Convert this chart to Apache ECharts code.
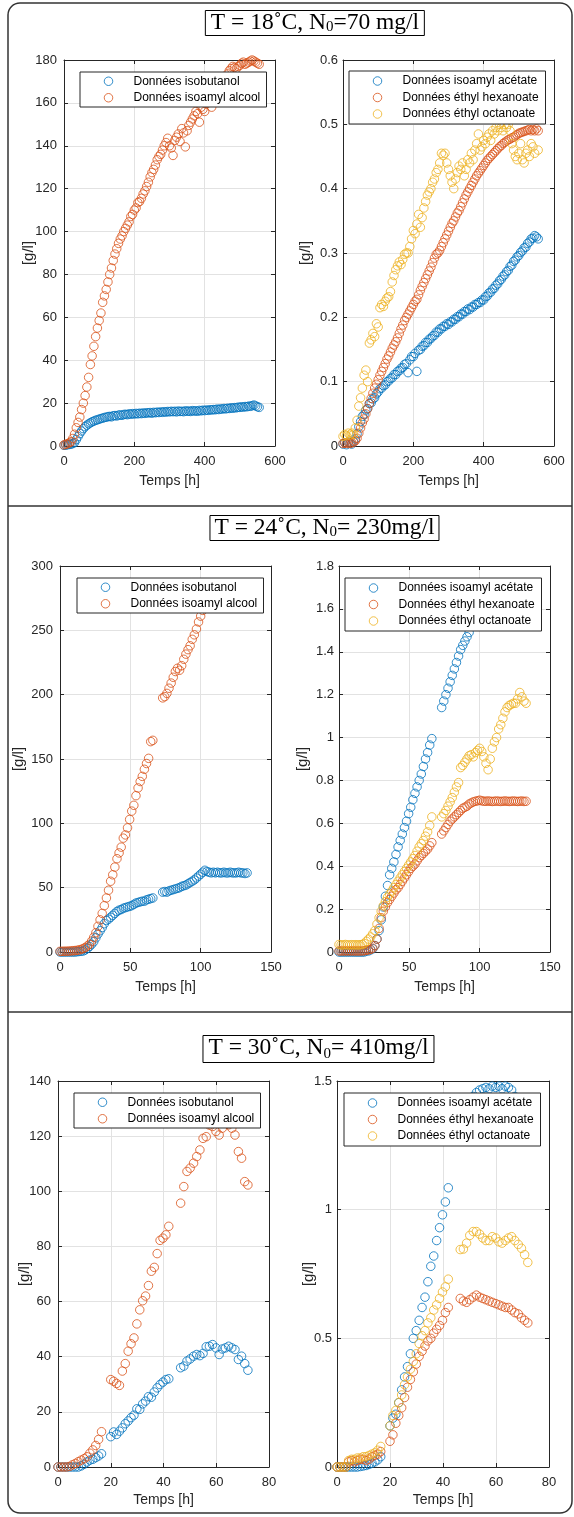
<!DOCTYPE html>
<html>
<head>
<meta charset="utf-8">
<title>Cinétiques de production des arômes</title>
<script src="https://cdn.jsdelivr.net/npm/echarts@6.0.0/dist/echarts.min.js"></script>
<style>
  html, body { margin: 0; padding: 0; background: #fff; }
  #chart { width: 574px; height: 1517px; }
</style>
</head>
<body>
<div id="chart"></div>
<script>
// ---------------- series names ----------------
const namesAlcools = ['Données isobutanol', 'Données isoamyl alcool'];
const namesEsters = ['Données isoamyl acétate', 'Données éthyl hexanoate', 'Données éthyl octanoate'];

// ---------------- panel headings (text, subscript, text) ----------------
const panelTitles = [
  ['T = 18˚C, N', '0', '=70 mg/l'],
  ['T = 24˚C, N', '0', '= 230mg/l'],
  ['T = 30˚C, N', '0', '= 410mg/l']
];

// ---------------- tick values ----------------
const ticksTime18 = [0, 200, 400, 600];
const ticksAlcools18 = [0, 20, 40, 60, 80, 100, 120, 140, 160, 180];
const ticksEsters18 = [0, 0.1, 0.2, 0.3, 0.4, 0.5, 0.6];
const ticksTime24 = [0, 50, 100, 150];
const ticksAlcools24 = [0, 50, 100, 150, 200, 250, 300];
const ticksEsters24 = [0, 0.2, 0.4, 0.6, 0.8, 1, 1.2, 1.4, 1.6, 1.8];
const ticksTime30 = [0, 20, 40, 60, 80];
const ticksAlcools30 = [0, 20, 40, 60, 80, 100, 120, 140];
const ticksEsters30 = [0, 0.5, 1, 1.5];

// ---------------- 18 °C (h / g/l) ----------------
const t18 = [0,5,10,15,20,25,30,35,40,45,
  50,55,60,65,70,75,80,85,90,95,
  100,105,110,115,120,125,130,135,140,145,
  150,155,160,165,170,175,180,185,190,195,
  200,205,210,215,220,225,230,235,240,245,
  250,255,260,265,270,275,280,285,290,295,
  300,305,310,315,320,325,330,335,340,345,
  350,355,360,365,370,375,380,385,390,395,
  400,405,410,415,420,425,430,435,440,445,
  450,455,460,465,470,475,480,485,490,495,
  500,505,510,515,520,525,530,535,540,545,
  550,555];
const isobutanol18 = [0.3,0.4,0.6,0.7,0.9,1.1,1.6,3.0,4.4,5.8,
  7.0,8.1,9.0,9.7,10.3,10.8,11.3,11.6,12.0,12.2,
  12.5,12.8,13.0,13.3,13.4,13.7,13.8,13.6,14.1,14.2,
  14.0,14.4,14.5,14.3,14.7,14.8,14.6,15.0,14.8,15.1,
  14.9,15.2,15.0,15.3,15.1,15.4,15.2,15.5,15.4,15.6,
  15.3,15.7,15.5,15.8,15.6,15.9,15.7,16.0,15.8,16.1,
  15.9,16.2,16.0,16.2,15.9,16.3,16.1,16.2,16.0,16.4,
  16.2,16.3,16.1,16.5,16.3,16.4,16.2,16.6,16.4,16.7,
  16.5,16.8,16.6,16.9,16.8,17.0,16.9,17.2,17.0,17.3,
  17.2,17.5,17.3,17.6,17.5,17.8,17.6,17.9,17.8,18.1,
  18.0,18.3,18.1,18.4,18.3,18.6,18.5,18.8,19.1,18.7,
  18.3,18.0];
const isoamylAlcool18 = [0.5,0.8,1.0,1.5,2.0,3.5,5.5,8.5,11.0,13.5,
  17.0,20.0,23.5,27.5,32.0,38.0,42.0,46.5,51.0,55.0,
  58.5,62.0,67.0,70.0,73.0,76.5,80.0,83.0,86.5,89.5,
  92.0,94.5,96.5,98.0,100.0,101.5,103.0,104.5,107.0,108.0,
  110.0,111.0,113.5,114.0,115.5,117.5,119.0,121.0,123.0,125.5,
  127.5,129.0,131.0,133.5,135.0,136.0,138.0,140.0,141.5,143.5,
  140.0,139.0,135.5,142.5,144.0,145.5,142.0,148.0,146.0,139.5,
  147.0,149.5,151.0,152.5,154.0,156.0,155.0,151.0,158.0,157.0,
  156.0,159.5,161.0,162.0,158.0,163.0,164.5,165.0,166.5,167.5,
  169.0,170.0,172.0,173.5,175.0,176.0,177.0,176.5,176.0,177.0,
  177.5,178.5,179.0,178.0,178.5,179.0,179.5,180.0,179.5,179.0,
  178.5,178.0];
const isoamylAcetate18 = [0.003,0.005,0.002,0.006,0.004,0.003,0.007,0.011,0.019,0.03,
  0.038,0.046,0.049,0.056,0.058,0.066,0.067,0.073,0.075,0.081,
  0.084,0.089,0.09,0.094,0.095,0.1,0.101,0.105,0.106,0.111,
  0.111,0.116,0.117,0.121,0.122,0.127,0.128,0.114,0.134,0.139,
  0.139,0.144,0.116,0.149,0.15,0.155,0.156,0.161,0.161,0.166,
  0.167,0.171,0.172,0.177,0.177,0.182,0.182,0.186,0.186,0.19,
  0.189,0.193,0.193,0.197,0.197,0.201,0.201,0.205,0.205,0.209,
  0.209,0.213,0.212,0.216,0.216,0.22,0.22,0.223,0.223,0.227,
  0.227,0.232,0.233,0.238,0.239,0.244,0.245,0.25,0.252,0.257,
  0.259,0.264,0.266,0.271,0.273,0.279,0.281,0.287,0.289,0.294,
  0.296,0.301,0.303,0.308,0.309,0.315,0.317,0.322,0.323,0.327,
  0.325,0.322];
const ethylHexanoate18 = [0.004,0.005,0.004,0.005,0.004,0.005,0.006,0.008,0.012,0.02,
  0.028,0.036,0.042,0.05,0.058,0.066,0.074,0.082,0.09,0.096,
  0.103,0.11,0.116,0.122,0.128,0.135,0.14,0.146,0.152,0.157,
  0.162,0.168,0.175,0.182,0.188,0.195,0.2,0.205,0.21,0.215,
  0.22,0.225,0.228,0.235,0.242,0.248,0.254,0.26,0.266,0.272,
  0.278,0.285,0.292,0.298,0.3,0.304,0.31,0.316,0.322,0.328,
  0.334,0.34,0.346,0.35,0.356,0.362,0.366,0.372,0.378,0.384,
  0.39,0.395,0.4,0.405,0.41,0.415,0.42,0.424,0.428,0.432,
  0.436,0.44,0.444,0.447,0.45,0.453,0.456,0.459,0.462,0.465,
  0.467,0.47,0.472,0.474,0.476,0.477,0.479,0.48,0.482,0.484,
  0.486,0.487,0.488,0.489,0.49,0.491,0.492,0.49,0.492,0.49,
  0.493,0.49];
const ethylOctanoate18 = [0.015,0.018,0.016,0.02,0.017,0.02,0.018,0.028,0.04,0.062,
  0.075,0.09,0.11,0.118,0.1,0.16,0.165,0.175,0.17,0.19,
  0.185,0.215,0.22,0.217,0.225,0.23,0.232,0.24,0.255,0.265,
  0.274,0.28,0.286,0.282,0.29,0.298,0.3,0.3,0.31,0.322,
  0.335,0.33,0.345,0.36,0.34,0.355,0.37,0.38,0.39,0.395,
  0.4,0.41,0.415,0.425,0.43,0.44,0.455,0.452,0.455,0.44,
  0.43,0.42,0.41,0.4,0.415,0.425,0.435,0.43,0.44,0.42,
  0.43,0.445,0.44,0.455,0.445,0.46,0.47,0.485,0.46,0.465,
  0.475,0.47,0.48,0.485,0.475,0.49,0.485,0.495,0.49,0.5,
  0.495,0.49,0.5,0.495,0.5,0.49,0.47,0.46,0.45,0.445,
  0.455,0.47,0.445,0.44,0.455,0.46,0.45,0.47,0.465,0.455,
  0.575,0.46];

// ---------------- 24 °C ----------------
const t24 = [0,1.5,3,4.5,6,7.5,9,10.5,12,13.5,
  15,16.5,18,19.5,21,22.5,24,25.5,27,28.5,
  30,31.5,33,34.5,36,37.5,39,40.5,42,43.5,
  45,46.5,48,49.5,51,52.5,54,55.5,57,58.5,
  60,61.5,63,64.5,66,
  73,74.5,76,77.5,79,
  80.5,82,83.5,85,86.5,88,89.5,91,92.5,94,
  95.5,97,98.5,100,101.5,103,104.5,106,107.5,109,
  110.5,112,113.5,115,116.5,118,119.5,121,122.5,124,
  125.5,127,128.5,130,131.5,133];
const isobutanol24 = [0,0,0,0,0,0,0,0,0.2,0.4,
  0.6,0.8,1.6,2.8,4.3,6,8,11,14,16.5,
  19,22,24.5,25.5,27,28.5,30,31.5,32.5,33,
  34,34.5,35,35.5,36,37,38,38.5,39,39.5,
  39.5,40.5,41,41.5,42,
  46.5,47,46.5,47.5,48,
  48.5,49,49.5,50,51,51.5,52,53,54,55,
  56,57.5,59,60.5,62,63.5,62.5,62,61.5,62,
  61.5,62,61.5,61.5,62,61.5,61.5,62,61.5,61.5,
  61.5,62,61.5,61.5,61,61.5];
const isoamylAlcool24 = [0.5,0.5,0.6,0.6,0.7,0.8,1,1.1,1.3,1.6,
  2,2.7,3.5,4.7,6,8.5,11.5,15,20,25,
  30,36,42,48,55,60,66,72.5,77,81.5,
  88.5,91,96.5,103,109.5,114,121.5,127.5,132.5,136.5,
  142,146.5,150.5,163.5,164.5,
  197.5,198.5,201,205,209,
  213.5,218,220.5,219,222.5,227.5,231.5,235,238,243,
  246.5,251,256.5,261,265.5];
const isoamylAcetate24 = [0,0,0,0,0,0,0,0,0,0,
  0,0,0,0.005,0.005,0.01,0.015,0.03,0.06,0.1,
  0.15,0.21,0.26,0.31,0.36,0.39,0.42,0.455,0.49,0.52,
  0.55,0.58,0.61,0.645,0.675,0.71,0.74,0.77,0.8,0.83,
  0.865,0.9,0.93,0.965,0.995,
  1.14,1.17,1.2,1.23,1.26,
  1.29,1.32,1.35,1.38,1.41,1.43,1.45,1.47,1.49];
const ethylHexanoate24 = [0.005,0.005,0.005,0.005,0.005,0.005,0.005,0.005,0.005,0.005,
  0.005,0.005,0.006,0.008,0.01,0.012,0.018,0.03,0.06,0.11,
  0.16,0.19,0.21,0.23,0.245,0.26,0.275,0.29,0.3,0.315,
  0.33,0.345,0.36,0.375,0.39,0.4,0.41,0.425,0.44,0.45,
  0.46,0.47,0.48,0.495,0.51,
  0.55,0.565,0.58,0.595,0.61,
  0.62,0.63,0.64,0.65,0.66,0.67,0.675,0.68,0.69,0.695,
  0.7,0.703,0.705,0.708,0.705,0.703,0.703,0.704,0.703,0.702,
  0.703,0.704,0.703,0.702,0.703,0.704,0.703,0.702,0.703,0.704,
  0.703,0.702,0.703,0.704,0.702,0.703];
const ethylOctanoate24 = [0.035,0.033,0.033,0.035,0.033,0.033,0.034,0.033,0.034,0.033,
  0.034,0.035,0.04,0.05,0.06,0.07,0.085,0.1,0.13,0.16,
  0.19,0.215,0.235,0.255,0.27,0.285,0.3,0.315,0.33,0.345,
  0.36,0.375,0.39,0.405,0.42,0.435,0.45,0.47,0.49,0.505,
  0.52,0.54,0.56,0.59,0.63,
  0.63,0.645,0.66,0.68,0.7,
  0.72,0.745,0.77,0.79,0.86,0.87,0.885,0.9,0.915,0.92,
  0.91,0.93,0.94,0.95,0.935,0.91,0.88,0.85,0.9,0.95,
  0.98,1.0,1.04,1.06,1.09,1.12,1.14,1.15,1.155,1.16,
  1.16,1.18,1.21,1.19,1.17,1.16];

// ---------------- 30 °C ----------------
const t30 = [0,1.1,2.2,3.3,4.4,5.5,6.6,7.7,8.8,9.9,
  11,12.1,13.2,14.3,15.4,16.5,
  20,21.1,22.2,23.3,24.4,25.5,26.6,27.7,28.8,29.9,
  31,32.1,33.2,34.3,35.4,36.5,37.6,38.7,39.8,40.9,
  42,
  46.5,47.7,48.9,50.1,51.4,52.6,53.8,55,56.2,57.4,
  58.6,59.9,61.1,62.3,63.5,64.7,65.9,67.1,68.4,69.6,
  70.8,72];
const isobutanol30 = [0,0,0,0,0,0,0,0,0.4,1,
  1.8,2.5,2.8,3.4,4,4.8,
  11,12.7,11.8,13,14.2,15.7,16.7,17.9,18.8,21.1,
  20.9,22.9,23.9,25.5,25.3,27.2,28.7,29.9,30.8,31.7,
  32,
  36,36.6,38.4,39.2,40.2,40.8,40.4,41.2,43.6,43.8,
  44.4,43.2,40.8,42.8,43.2,43.8,43.2,42.6,39,40.2,
  37.5,35.1];
const isoamylAlcool30 = [0,0,0,0,0.2,0.8,1.3,1.9,2.5,3,
  3.7,5,6.2,7.8,10,12.8,
  31.7,31.1,30.3,29.6,34.8,37.5,42,44.7,46.8,51.9,
  57,60.3,62,65.8,71,72.4,77.4,82.2,83,84.2,
  87.3,
  95.7,101.7,107.2,108.4,110.2,112.6,115,119.2,119.8,124,
  123.5,121.7,120.4,122.9,124.7,124.1,122.9,120.4,114.4,112,
  103.5,102.3];
const isoamylAcetate30 = [0,0,0,0,0,0,0,0,0.002,0.004,
  0.006,0.01,0.015,0.02,0.028,0.04,
  0.16,0.19,0.205,0.25,0.3,0.35,0.39,0.44,0.5,0.53,
  0.57,0.62,0.66,0.72,0.78,0.82,0.88,0.93,0.98,1.03,
  1.085,
  1.29,1.32,1.36,1.4,1.44,1.455,1.465,1.47,1.475,1.47,
  1.48,1.475,1.48,1.47,1.48,1.475,1.465,1.44,1.41,1.39,
  1.37,1.35];
const ethylHexanoate30 = [0,0,0,0,0.02,0.025,0.02,0.025,0.03,0.03,
  0.025,0.03,0.04,0.045,0.05,0.06,
  0.1,0.125,0.17,0.2,0.23,0.27,0.31,0.34,0.37,0.4,
  0.43,0.45,0.47,0.49,0.5,0.52,0.535,0.55,0.57,0.6,
  0.62,
  0.655,0.645,0.64,0.65,0.66,0.668,0.66,0.655,0.65,0.645,
  0.64,0.635,0.63,0.625,0.62,0.62,0.61,0.6,0.595,0.58,
  0.57,0.56];
const ethylOctanoate30 = [0,0,0,0,0.025,0.03,0.03,0.035,0.035,0.04,
  0.04,0.045,0.05,0.055,0.065,0.08,
  0.16,0.2,0.22,0.25,0.28,0.32,0.35,0.38,0.41,0.44,
  0.48,0.51,0.53,0.56,0.58,0.61,0.63,0.655,0.68,0.7,
  0.73,
  0.845,0.847,0.87,0.9,0.915,0.915,0.905,0.89,0.88,0.88,
  0.895,0.89,0.875,0.87,0.88,0.89,0.895,0.88,0.865,0.85,
  0.825,0.795];

// ---------------- styling ----------------
const BLUE = '#0072BD', ORANGE = '#D95319', YELLOW = '#EDB120';
const INK = '#262626', GRIDC = '#e2e2e2', FRAME = '#333333';
const SANS = 'Liberation Sans', SERIF = 'Liberation Serif';

const measure = document.createElement('canvas').getContext('2d');
function textWidth(str, size, family) {
  measure.font = size + 'px "' + family + '"';
  return measure.measureText(str).width;
}
function pairs(ts, vs) {
  const out = [];
  const n = Math.min(ts.length, vs.length);
  for (let i = 0; i < n; i++) if (vs[i] !== null) out.push([ts[i], vs[i]]);
  return out;
}

// plot boxes [left, top, width, height] and legend boxes [left, top, width]
const plots = [
  { box: [64, 60, 211, 386], xTicks: ticksTime18, yTicks: ticksAlcools18, yGap: 28, xGap: 28, yMargin: 7,
    legend: [80, 72, 186], t: t18, names: namesAlcools, values: [isobutanol18, isoamylAlcool18], colors: [BLUE, ORANGE] },
  { box: [343, 60, 211, 386], xTicks: ticksTime18, yTicks: ticksEsters18, yGap: 29.5, xGap: 28, yMargin: 5,
    legend: [349, 71, 196], t: t18, names: namesEsters, values: [isoamylAcetate18, ethylHexanoate18, ethylOctanoate18], colors: [BLUE, ORANGE, YELLOW] },
  { box: [60, 566, 211, 386], xTicks: ticksTime24, yTicks: ticksAlcools24, yGap: 33.5, xGap: 28.5, yMargin: 7,
    legend: [77, 578, 186], t: t24, names: namesAlcools, values: [isobutanol24, isoamylAlcool24], colors: [BLUE, ORANGE] },
  { box: [339, 566, 211, 386], xTicks: ticksTime24, yTicks: ticksEsters24, yGap: 28.5, xGap: 28.5, yMargin: 5,
    legend: [345, 578, 196], t: t24, names: namesEsters, values: [isoamylAcetate24, ethylHexanoate24, ethylOctanoate24], colors: [BLUE, ORANGE, YELLOW] },
  { box: [58, 1081, 211, 386], xTicks: ticksTime30, yTicks: ticksAlcools30, yGap: 25.5, xGap: 26.5, yMargin: 7,
    legend: [74, 1093, 186], t: t30, names: namesAlcools, values: [isobutanol30, isoamylAlcool30], colors: [BLUE, ORANGE] },
  { box: [337, 1081, 212, 386], xTicks: ticksTime30, yTicks: ticksEsters30, yGap: 21, xGap: 26.5, yMargin: 5,
    legend: [344, 1093, 196], t: t30, names: namesEsters, values: [isoamylAcetate30, ethylHexanoate30, ethylOctanoate30], colors: [BLUE, ORANGE, YELLOW] }
];

const titleBoxes = [[205, 10, 220, 26], [210, 515, 229, 26], [203, 1033, 231, 30]];

const option = {
  animation: false,
  backgroundColor: '#ffffff',
  title: [], grid: [], xAxis: [], yAxis: [], legend: [], series: [],
  graphic: [
    { type: 'rect', silent: true, z: 0, shape: { x: 8, y: 3, width: 564, height: 1510, r: 12 },
      style: { fill: 'none', stroke: FRAME, lineWidth: 1.5 } },
    { type: 'line', silent: true, z: 0, shape: { x1: 8, y1: 506, x2: 572, y2: 506 },
      style: { stroke: FRAME, lineWidth: 1.5 } },
    { type: 'line', silent: true, z: 0, shape: { x1: 8, y1: 1012, x2: 572, y2: 1012 },
      style: { stroke: FRAME, lineWidth: 1.5 } }
  ]
};

function axisRange(ticks) {
  return { min: ticks[0], max: ticks[ticks.length - 1], interval: ticks[1] - ticks[0] };
}
const lineStyle = { show: true, onZero: false, lineStyle: { color: INK, width: 1 } };
const tickStyle = { show: true, inside: true, length: 4, lineStyle: { color: INK, width: 1 } };

const MARK = 8.5;
plots.forEach((p, i) => {
  const [left, top, width, height] = p.box;
  option.grid.push({ left: left, top: top, width: width, height: height, containLabel: false });
  const xr = axisRange(p.xTicks), yr = axisRange(p.yTicks);

  option.xAxis.push(Object.assign({
    type: 'value', gridIndex: i, position: 'bottom',
    name: 'Temps [h]', nameLocation: 'middle', nameGap: p.xGap, nameMoveOverlap: false,
    nameTextStyle: { fontFamily: SANS, fontSize: 14, color: INK },
    axisLine: lineStyle, axisTick: tickStyle,
    axisLabel: { fontFamily: SANS, fontSize: 13, color: INK, margin: 9 },
    splitLine: { show: true, lineStyle: { color: GRIDC, width: 1 } }
  }, xr));
  option.xAxis.push(Object.assign({
    type: 'value', gridIndex: i, position: 'top',
    axisLine: lineStyle, axisTick: tickStyle,
    axisLabel: { show: false }, splitLine: { show: false }
  }, xr));

  option.yAxis.push(Object.assign({
    type: 'value', gridIndex: i, position: 'left',
    name: '[g/l]', nameLocation: 'middle', nameGap: p.yGap, nameRotate: 90, nameMoveOverlap: false,
    nameTextStyle: { fontFamily: SANS, fontSize: 15, color: INK },
    axisLine: lineStyle, axisTick: tickStyle,
    axisLabel: { fontFamily: SANS, fontSize: 13, color: INK, margin: p.yMargin },
    splitLine: { show: true, lineStyle: { color: GRIDC, width: 1 } }
  }, yr));
  option.yAxis.push(Object.assign({
    type: 'value', gridIndex: i, position: 'right',
    axisLine: lineStyle, axisTick: tickStyle,
    axisLabel: { show: false }, splitLine: { show: false }
  }, yr));

  p.names.forEach((name, k) => {
    option.series.push({
      type: 'scatter', name: name,
      xAxisIndex: 2 * i, yAxisIndex: 2 * i,
      data: pairs(p.t, p.values[k]),
      symbol: 'circle', symbolSize: MARK, clip: false, silent: true,
      itemStyle: { color: 'rgba(0,0,0,0)', borderColor: p.colors[k], borderWidth: 1 },
      emphasis: { disabled: true }
    });
  });

  // legend box: marker centred 28 px from the left edge, text 53 px from it, rows 16.5 px
  const [lx, ly, lw] = p.legend;
  const widest = Math.max.apply(null, p.names.map(n => textWidth(n, 12, SANS)));
  const padL = 28 - MARK / 2;
  const textPad = 53 - padL - MARK - 5;
  const padR = Math.max(2, lw - 53 - widest);
  const padV = p.names.length === 2 ? 1 : 1.75;
  option.legend.push({
    left: lx, top: ly, orient: 'vertical', selectedMode: false,
    backgroundColor: '#ffffff', borderColor: INK, borderWidth: 1, borderRadius: 0,
    padding: [padV, padR, padV, padL], itemGap: 0, itemWidth: MARK, itemHeight: MARK,
    textStyle: { fontFamily: SANS, fontSize: 12, color: '#000', lineHeight: 16.5, padding: [0, 0, 0, textPad] },
    data: p.names.map((n, k) => ({
      name: n, icon: 'circle',
      itemStyle: { color: 'rgba(0,0,0,0)', borderColor: p.colors[k], borderWidth: 1 }
    }))
  });
});

// boxed panel headings with subscripted N0
panelTitles.forEach((parts, i) => {
  const [x, y, w, h] = titleBoxes[i];
  const main = 23.5, sub = 15;
  const tw = textWidth(parts[0], main, SERIF) + textWidth(parts[1], sub, SERIF) + textWidth(parts[2], main, SERIF);
  const padX = Math.max(2, (w - tw) / 2);
  option.title.push({
    left: x, top: y,
    text: '{m|' + parts[0] + '}{s|' + parts[1] + '}{m|' + parts[2] + '}',
    borderColor: '#000', borderWidth: 1,
    padding: [1, padX, 1, padX],
    textStyle: {
      fontFamily: SERIF, fontWeight: 'normal', fontSize: main, color: '#000',
      rich: {
        m: { fontFamily: SERIF, fontWeight: 'normal', fontSize: main, lineHeight: h - 2, color: '#000' },
        s: { fontFamily: SERIF, fontWeight: 'normal', fontSize: sub, lineHeight: sub, verticalAlign: 'bottom', color: '#000' }
      }
    }
  });
});

const chart = echarts.init(document.getElementById('chart'), null, { renderer: 'canvas', width: 574, height: 1517 });
chart.setOption(option);
</script>
</body>
</html>
